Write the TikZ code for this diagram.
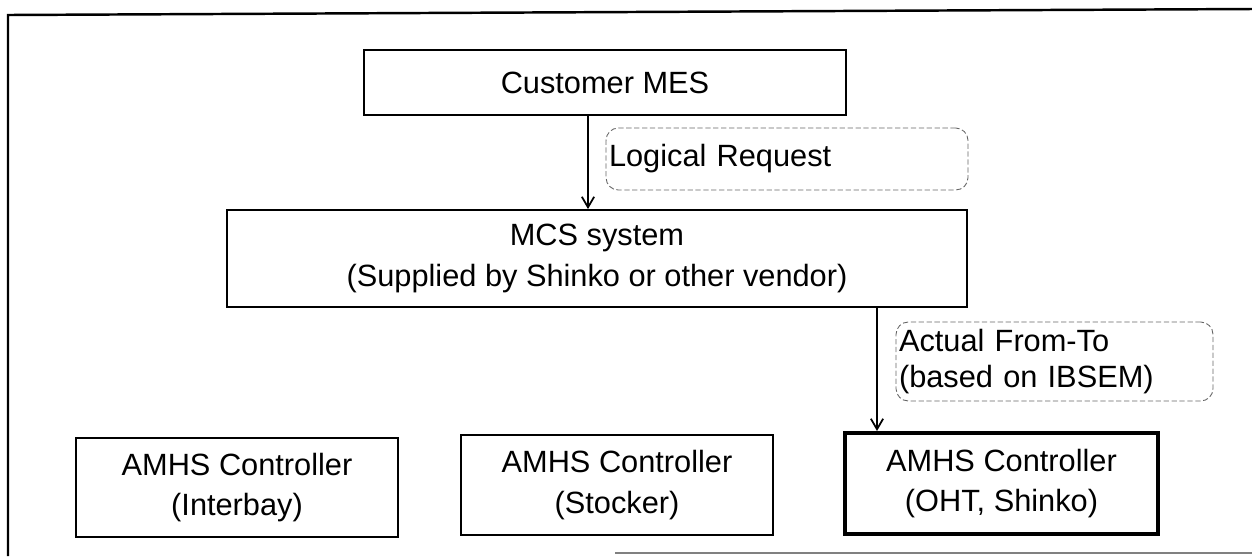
\documentclass[tikz,border=0pt]{standalone}
\usepackage{fontspec}
\setmainfont{Liberation Sans}
\usetikzlibrary{arrows.meta, positioning}

\begin{document}
\begin{tikzpicture}[x=0.02cm, y=-0.02cm,
        box/.style={draw, line width=1.1pt, align=center, inner sep=0pt,
            font=\fontsize{17.5}{23}\selectfont},
        note/.style={draw=black!60, dash pattern=on 3pt off 1.5pt, line width=0.5pt, rounded corners=7pt,
            align=left, inner xsep=0.06cm, inner ysep=0pt,
            font=\fontsize{17.5}{21}\selectfont},
        flow/.style={-{Straight Barb[length=6pt,width=7pt]}, line width=1pt}]

        \useasboundingbox (0,0) rectangle (1252,556);

        % Outer frame
        \draw[line width=1.4pt] (1252,9) -- (8,15) -- (8,556);
        \draw[line width=1.4pt, black!50] (615,553) -- (1252,553);

        % Host and transport system
        \node[box, minimum width=9.64cm, minimum height=1.3cm] (mes) at (605,82.5) {Customer MES};
        \node[box, minimum width=14.8cm, minimum height=1.94cm] (mcs) at (597,258.5)
            {MCS system\\(Supplied by Shinko or other vendor)};

        % Messages
        \node[note, text width=7.12cm, minimum height=1.24cm] (logreq) at (787,159) {Logical Request};
        \node[note, text width=6.22cm, minimum height=1.58cm] (fromto) at (1054.5,361.5)
            {Actual From-To\\(based on IBSEM)};

        % Controllers
        \node[box, minimum width=6.44cm, minimum height=1.98cm] (amhsinter) at (237,487.5)
            {AMHS Controller\\(Interbay)};
        \node[box, minimum width=6.24cm, minimum height=2cm] (amhsstock) at (617,485)
            {AMHS Controller\\(Stocker)};
        \node[box, line width=2.3pt, minimum width=6.26cm, minimum height=2.02cm] (amhsoht) at (1001.5,483.5)
            {AMHS Controller\\(OHT, Shinko)};

        % Requests
        \coordinate (tap1) at (588,0);
        \coordinate (tap2) at (877,0);
        \draw[flow] (mes.south -| tap1) -- (mcs.north -| tap1);
        \draw[flow] (mcs.south -| tap2) -- (amhsoht.north -| tap2);
    \end{tikzpicture}
\end{document}
